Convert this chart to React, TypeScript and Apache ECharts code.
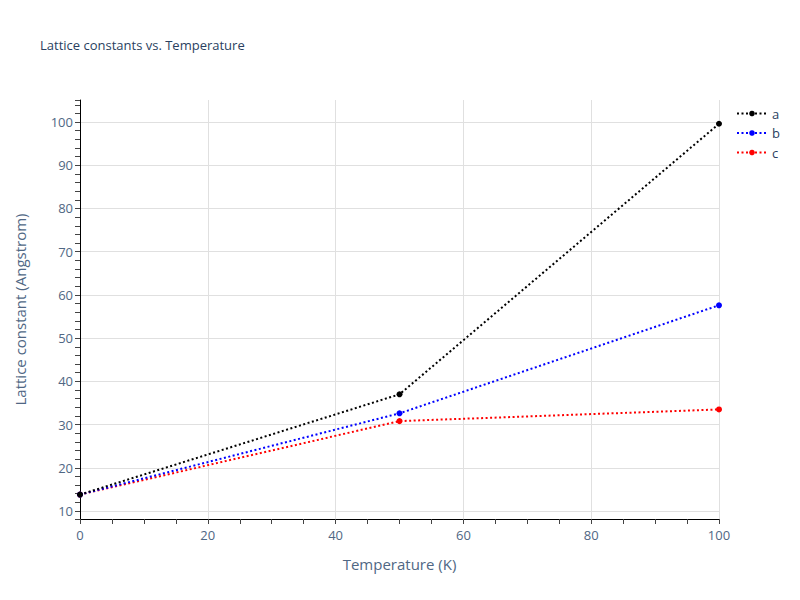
import React, { useEffect, useRef } from "react";
import * as echarts from "echarts";

const temperatures = [0, 50, 100];
const seriesNames = ["a", "b", "c"];
const aValues = [13.8, 37.0, 99.6];
const bValues = [13.8, 32.6, 57.6];
const cValues = [13.8, 30.8, 33.5];
const colors = ["#000000", "#0000ff", "#ff0000"];

export default function App() {
  const ref = useRef<HTMLDivElement>(null);
  useEffect(() => {
    if (!ref.current) return;
    const chart = echarts.init(ref.current, null, { renderer: "svg" });
    const all = [aValues, bValues, cValues];
    const tickColor = "#506784";
    const font = "Open Sans, Arial, sans-serif";
    chart.setOption({
      animation: false,
      backgroundColor: "#ffffff",
      title: {
        text: "Lattice constants vs. Temperature",
        left: 35,
        top: 33,
        textStyle: { fontSize: 13, fontWeight: "normal", color: "#2a3f5f", fontFamily: font },
      },
      legend: {
        orient: "vertical",
        left: 731,
        top: 102,
        itemWidth: 30,
        itemHeight: 7,
        itemGap: 6.5,
        data: seriesNames,
        textStyle: { fontSize: 13, color: "#2a3f5f", fontFamily: font },
      },
      grid: { left: 80, right: 81, top: 100, bottom: 81, containLabel: false },
      xAxis: {
        type: "value",
        min: 0,
        max: 100,
        interval: 20,
        name: "Temperature (K)",
        nameLocation: "middle",
        nameGap: 37,
        nameTextStyle: { fontSize: 15, color: tickColor, fontFamily: font },
        axisLine: { show: true, lineStyle: { color: "#000000", width: 1 } },
        axisTick: { show: true, length: 5, lineStyle: { color: "#444" } },
        minorTick: { show: true, splitNumber: 4, length: 5, lineStyle: { color: "#444" } },
        axisLabel: { fontSize: 13, color: tickColor, margin: 9, fontFamily: font },
        splitLine: { show: true, lineStyle: { color: "#e0e0e0", width: 1 } },
      },
      yAxis: {
        type: "value",
        min: 8.15,
        max: 105.1,
        splitNumber: 10,
        name: "Lattice constant (Angstrom)",
        nameLocation: "middle",
        nameGap: 53,
        nameTextStyle: { fontSize: 15, color: tickColor, fontFamily: font },
        axisLine: { show: true, lineStyle: { color: "#000000", width: 1 } },
        axisTick: { show: true, length: 5, lineStyle: { color: "#444" } },
        minorTick: { show: true, splitNumber: 5, length: 5, lineStyle: { color: "#444" } },
        axisLabel: {
          fontSize: 13,
          color: tickColor,
          margin: 7,
          showMinLabel: false,
          showMaxLabel: false,
          fontFamily: font,
        },
        splitLine: { show: true, showMinLine: false, showMaxLine: false, lineStyle: { color: "#e0e0e0", width: 1 } },
      },
      series: seriesNames.map((n, i) => ({
        name: n,
        type: "line",
        data: temperatures.map((t, j) => [t, all[i][j]]),
        symbol: "circle",
        symbolSize: 6,
        color: colors[i],
        lineStyle: { color: colors[i], width: 2, type: [2, 2.5] },
        itemStyle: { color: colors[i] },
        z: 10 - i,
      })),
    });
    return () => chart.dispose();
  }, []);
  return <div ref={ref} style={{ position: "absolute", left: 0, top: 0, width: 800, height: 600 }} />;
}
